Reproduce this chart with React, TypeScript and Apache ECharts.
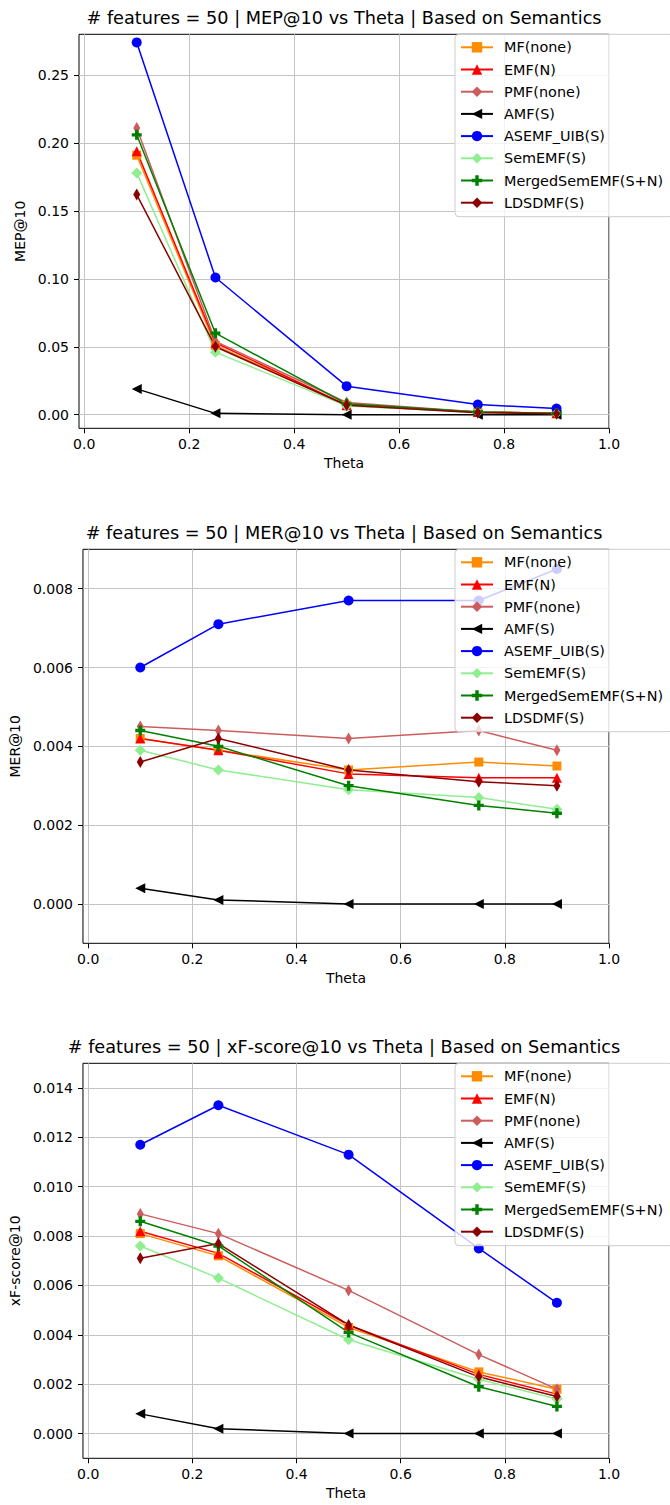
import React, { useEffect, useRef } from 'react';
import * as echarts from 'echarts';

// ---------- data ----------
const THETA = [0.1, 0.25, 0.5, 0.75, 0.9];
const SERIES_NAMES = ['MF(none)', 'EMF(N)', 'PMF(none)', 'AMF(S)', 'ASEMF_UIB(S)', 'SemEMF(S)', 'MergedSemEMF(S+N)', 'LDSDMF(S)'];

// MEP@10
const MEP_MF = [0.191, 0.051, 0.007, 0.002, 0.001];
const MEP_EMF = [0.194, 0.053, 0.007, 0.002, 0.001];
const MEP_PMF = [0.211, 0.054, 0.009, 0.002, 0.001];
const MEP_AMF = [0.019, 0.001, 0.0, 0.0, 0.0];
const MEP_ASEMF = [0.274, 0.101, 0.021, 0.0075, 0.0045];
const MEP_SEMEMF = [0.178, 0.046, 0.0065, 0.0018, 0.0009];
const MEP_MERGED = [0.206, 0.060, 0.008, 0.002, 0.001];
const MEP_LDSDMF = [0.162, 0.050, 0.007, 0.0015, 0.0008];

// MER@10
const MER_MF = [0.0042, 0.0039, 0.0034, 0.0036, 0.0035];
const MER_EMF = [0.0042, 0.0039, 0.0033, 0.0032, 0.0032];
const MER_PMF = [0.0045, 0.0044, 0.0042, 0.0044, 0.0039];
const MER_AMF = [0.0004, 0.0001, 0.0, 0.0, 0.0];
const MER_ASEMF = [0.0060, 0.0071, 0.0077, 0.0077, 0.0085];
const MER_SEMEMF = [0.0039, 0.0034, 0.0029, 0.0027, 0.0024];
const MER_MERGED = [0.0044, 0.0040, 0.0030, 0.0025, 0.0023];
const MER_LDSDMF = [0.0036, 0.0042, 0.0034, 0.0031, 0.0030];

// xF-score@10
const XF_MF = [0.0081, 0.0072, 0.0043, 0.0025, 0.0018];
const XF_EMF = [0.0082, 0.0073, 0.0044, 0.0024, 0.0016];
const XF_PMF = [0.0089, 0.0081, 0.0058, 0.0032, 0.0018];
const XF_AMF = [0.0008, 0.0002, 0.0, 0.0, 0.0];
const XF_ASEMF = [0.0117, 0.0133, 0.0113, 0.0075, 0.0053];
const XF_SEMEMF = [0.0076, 0.0063, 0.0038, 0.0022, 0.0014];
const XF_MERGED = [0.0086, 0.0076, 0.0041, 0.0019, 0.0011];
const XF_LDSDMF = [0.0071, 0.0077, 0.0044, 0.0023, 0.0015];

const CHART_TITLES = [
  '# features = 50 | MEP@10 vs Theta | Based on Semantics',
  '# features = 50 | MER@10 vs Theta | Based on Semantics',
  '# features = 50 | xF-score@10 vs Theta | Based on Semantics',
];
const Y_NAMES = ['MEP@10', 'MER@10', 'xF-score@10'];
const X_NAME = 'Theta';
const X_TICKS = [0.0, 0.2, 0.4, 0.6, 0.8, 1.0];
const Y_TICKS_MEP = [0.0, 0.05, 0.10, 0.15, 0.20, 0.25];
const Y_TICKS_MER = [0.0, 0.002, 0.004, 0.006, 0.008];
const Y_TICKS_XF = [0.0, 0.002, 0.004, 0.006, 0.008, 0.010, 0.012, 0.014];

const CHART_VALUES = [
  [MEP_MF, MEP_EMF, MEP_PMF, MEP_AMF, MEP_ASEMF, MEP_SEMEMF, MEP_MERGED, MEP_LDSDMF],
  [MER_MF, MER_EMF, MER_PMF, MER_AMF, MER_ASEMF, MER_SEMEMF, MER_MERGED, MER_LDSDMF],
  [XF_MF, XF_EMF, XF_PMF, XF_AMF, XF_ASEMF, XF_SEMEMF, XF_MERGED, XF_LDSDMF],
];
const Y_TICKS = [Y_TICKS_MEP, Y_TICKS_MER, Y_TICKS_XF];
const Y_DECIMALS = [2, 3, 3];
const Y_LIMITS = [[-0.01, 0.28], [-0.001, 0.009], [-0.001, 0.015]];
const X_LIMITS = [-0.01, 1.0];

// ---------- styles ----------
const FONT = '"DejaVu Sans", "Liberation Sans", sans-serif';
const PLUS = 'path://M1,0H2V1H3V2H2V3H1V2H0V1H1Z';
const SERIES_STYLES = [
  { color: '#ff8c00', symbol: 'rect', size: 9, rotate: 0 },
  { color: '#ff0000', symbol: 'triangle', size: 10, rotate: 0 },
  { color: '#cd5c5c', symbol: 'diamond', size: [7, 12], rotate: 0 },
  { color: '#000000', symbol: 'triangle', size: 10, rotate: 90 },
  { color: '#0000ff', symbol: 'circle', size: 10, rotate: 0 },
  { color: '#90ee90', symbol: 'diamond', size: 11, rotate: 0 },
  { color: '#008000', symbol: PLUS, size: 10, rotate: 0 },
  { color: '#8b0000', symbol: 'diamond', size: [7, 12], rotate: 0 },
];

const GRID_LEFT = 79;
const GRID_RIGHT = 61;
const GRID_TOPS = [34.3, 549.3, 1063.3];
const GRID_HEIGHTS = [394, 394, 395];

export default function App() {
  const ref = useRef<HTMLDivElement>(null);

  useEffect(() => {
    document.body.style.margin = '0';
    const chart = echarts.init(ref.current!, null, { renderer: 'svg' });

    const textStyle = { color: '#000', fontFamily: FONT, fontSize: 14 };

    const grid = GRID_TOPS.map((top, i) => ({
      left: GRID_LEFT,
      right: GRID_RIGHT,
      top,
      height: GRID_HEIGHTS[i],
      show: true,
      borderColor: '#000',
      borderWidth: 1,
      backgroundColor: 'transparent',
    }));

    const xAxis = GRID_TOPS.map((_, i) => ({
      type: 'value',
      gridIndex: i,
      min: X_LIMITS[0],
      max: X_LIMITS[1],
      axisLine: { show: false, onZero: false },
      axisTick: { show: true, length: 5, customValues: X_TICKS, lineStyle: { color: '#000' } },
      axisLabel: {
        customValues: X_TICKS,
        formatter: (v: number) => v.toFixed(1),
        margin: 9,
        ...textStyle,
      },
      splitLine: { show: true, lineStyle: { color: '#c4c4c4', width: 1 } },
      name: X_NAME,
      nameLocation: 'middle',
      nameGap: 28,
      nameTextStyle: { ...textStyle },
    }));

    const yAxis = GRID_TOPS.map((_, i) => ({
      type: 'value',
      gridIndex: i,
      min: Y_LIMITS[i][0],
      max: Y_LIMITS[i][1],
      axisLine: { show: false, onZero: false },
      axisTick: { show: true, length: 5, customValues: Y_TICKS[i], lineStyle: { color: '#000' } },
      axisLabel: {
        customValues: Y_TICKS[i],
        formatter: (v: number) => v.toFixed(Y_DECIMALS[i]),
        margin: 10,
        ...textStyle,
      },
      splitLine: { show: true, lineStyle: { color: '#c4c4c4', width: 1 } },
      name: Y_NAMES[i],
      nameLocation: 'middle',
      nameRotate: 90,
      nameGap: 50,
      nameTextStyle: { ...textStyle },
    }));

    const series: any[] = [];
    CHART_VALUES.forEach((vals, i) => {
      vals.forEach((arr, j) => {
        const st = SERIES_STYLES[j];
        series.push({
          type: 'line',
          name: SERIES_NAMES[j],
          xAxisIndex: i,
          yAxisIndex: i,
          data: THETA.map((x, k) => [x, arr[k]]),
          symbol: st.symbol,
          symbolSize: st.size,
          symbolRotate: st.rotate,
          showAllSymbol: true,
          color: st.color,
          lineStyle: { color: st.color, width: 1.5 },
          itemStyle: { color: st.color },
          emphasis: { disabled: true },
        });
      });
    });

    const legend = GRID_TOPS.map((top) => ({
      data: SERIES_NAMES,
      orient: 'vertical',
      left: 455,
      top,
      itemWidth: 32,
      itemHeight: 13,
      itemGap: 8.2,
      padding: [6, 10, 7, 5],
      backgroundColor: 'rgba(255,255,255,0.8)',
      borderColor: '#cccccc',
      borderWidth: 1,
      borderRadius: 4,
      selectedMode: false,
      textStyle: { ...textStyle, fontSize: 14.4, padding: [0, 0, 0, 6] },
    }));

    const graphic = CHART_TITLES.map((t, i) => ({
      type: 'text',
      x: GRID_LEFT + (670 - GRID_LEFT - GRID_RIGHT) / 2,
      y: GRID_TOPS[i] - 16,
      style: {
        text: t,
        fill: '#000',
        font: `17.7px ${FONT}`,
        textAlign: 'center',
        textVerticalAlign: 'middle',
      },
    }));

    chart.setOption({
      animation: false,
      backgroundColor: '#fff',
      grid,
      xAxis,
      yAxis,
      series,
      legend,
      graphic,
    } as any);

    return () => chart.dispose();
  }, []);

  return <div ref={ref} style={{ width: 670, height: 1505 }} />;
}
